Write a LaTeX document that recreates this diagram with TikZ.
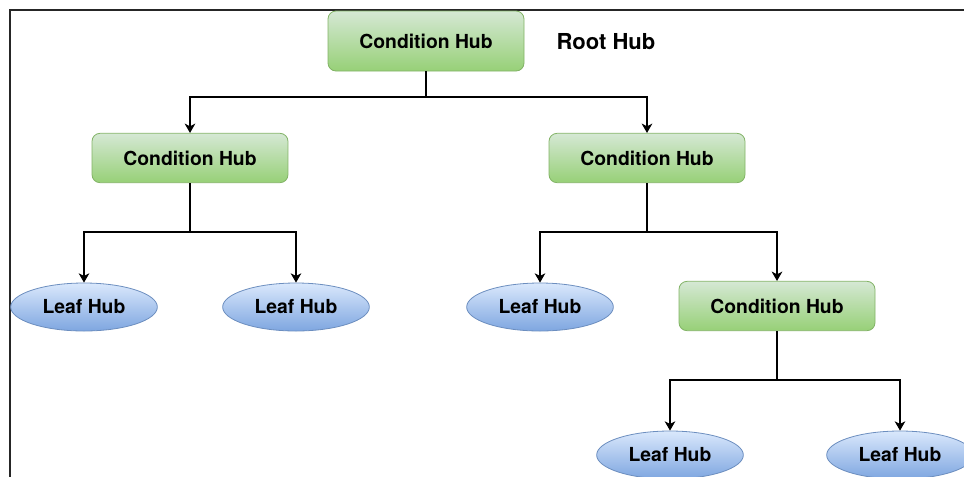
\documentclass[tikz,border=0pt]{standalone}
\usepackage{fontspec}
\setmainfont{TeX Gyre Heros}
\usetikzlibrary{arrows.meta,shapes.geometric}
\definecolor{condtop}{HTML}{D5E8D4}
\definecolor{condbot}{HTML}{97D077}
\definecolor{condline}{HTML}{82B366}
\definecolor{leaftop}{HTML}{DAE8FC}
\definecolor{leafbot}{HTML}{7EA6E0}
\definecolor{leafline}{HTML}{6C8EBF}
\begin{document}
\begin{tikzpicture}[x=0.75pt,y=-0.75pt,
  cond/.style={draw=condline,line width=0.6pt,rounded corners=6pt,top color=condtop,bottom color=condbot,
    minimum width=147pt,minimum height=37pt,font=\fontsize{14.5}{17}\selectfont\bfseries},
  leaf/.style={draw=leafline,line width=0.6pt,ellipse,top color=leaftop,bottom color=leafbot,
    minimum width=110pt,minimum height=36pt,inner sep=0pt,font=\fontsize{14.5}{17}\selectfont\bfseries},
  arr/.style={line width=0.8pt,-{Stealth[length=7pt,width=8pt,inset=2pt]}}]
\clip (0,0) rectangle (964,476);
% frame
\draw [gray!30!black,line width=1.5pt] (10,480) -- (10,10) -- (970,10);
% hubs
\node [cond,minimum height=45pt] (root) at (426,41) {Condition Hub};
\node [font=\fontsize{16.5}{19}\selectfont\bfseries] (title) at (606,42) {Root Hub};
\node [cond] (condl) at (190,158) {Condition Hub};
\node [cond] (condr) at (647,158) {Condition Hub};
\node [cond] (condrr) at (777,306) {Condition Hub};
\node [leaf] (leafa) at (84,307) {Leaf Hub};
\node [leaf] (leafb) at (296,307) {Leaf Hub};
\node [leaf] (leafc) at (540,307) {Leaf Hub};
\node [leaf] (leafd) at (670,455) {Leaf Hub};
\node [leaf] (leafe) at (900,455) {Leaf Hub};
% joints
\coordinate (j0) at (426,97);
\coordinate (j1) at (190,232);
\coordinate (j2) at (647,232);
\coordinate (j3) at (777,380);
% links
\draw [line width=0.8pt] (root.south) -- (j0);
\draw [arr] (j0) -| (condl.north);
\draw [arr] (j0) -| (condr.north);
\draw [line width=0.8pt] (condl.south) -- (j1);
\draw [arr] (j1) -| (leafa.north);
\draw [arr] (j1) -| (leafb.north);
\draw [line width=0.8pt] (condr.south) -- (j2);
\draw [arr] (j2) -| (leafc.north);
\draw [arr] (j2) -| (condrr.north);
\draw [line width=0.8pt] (condrr.south) -- (j3);
\draw [arr] (j3) -| (leafd.north);
\draw [arr] (j3) -| (leafe.north);
\end{tikzpicture}
\end{document}
